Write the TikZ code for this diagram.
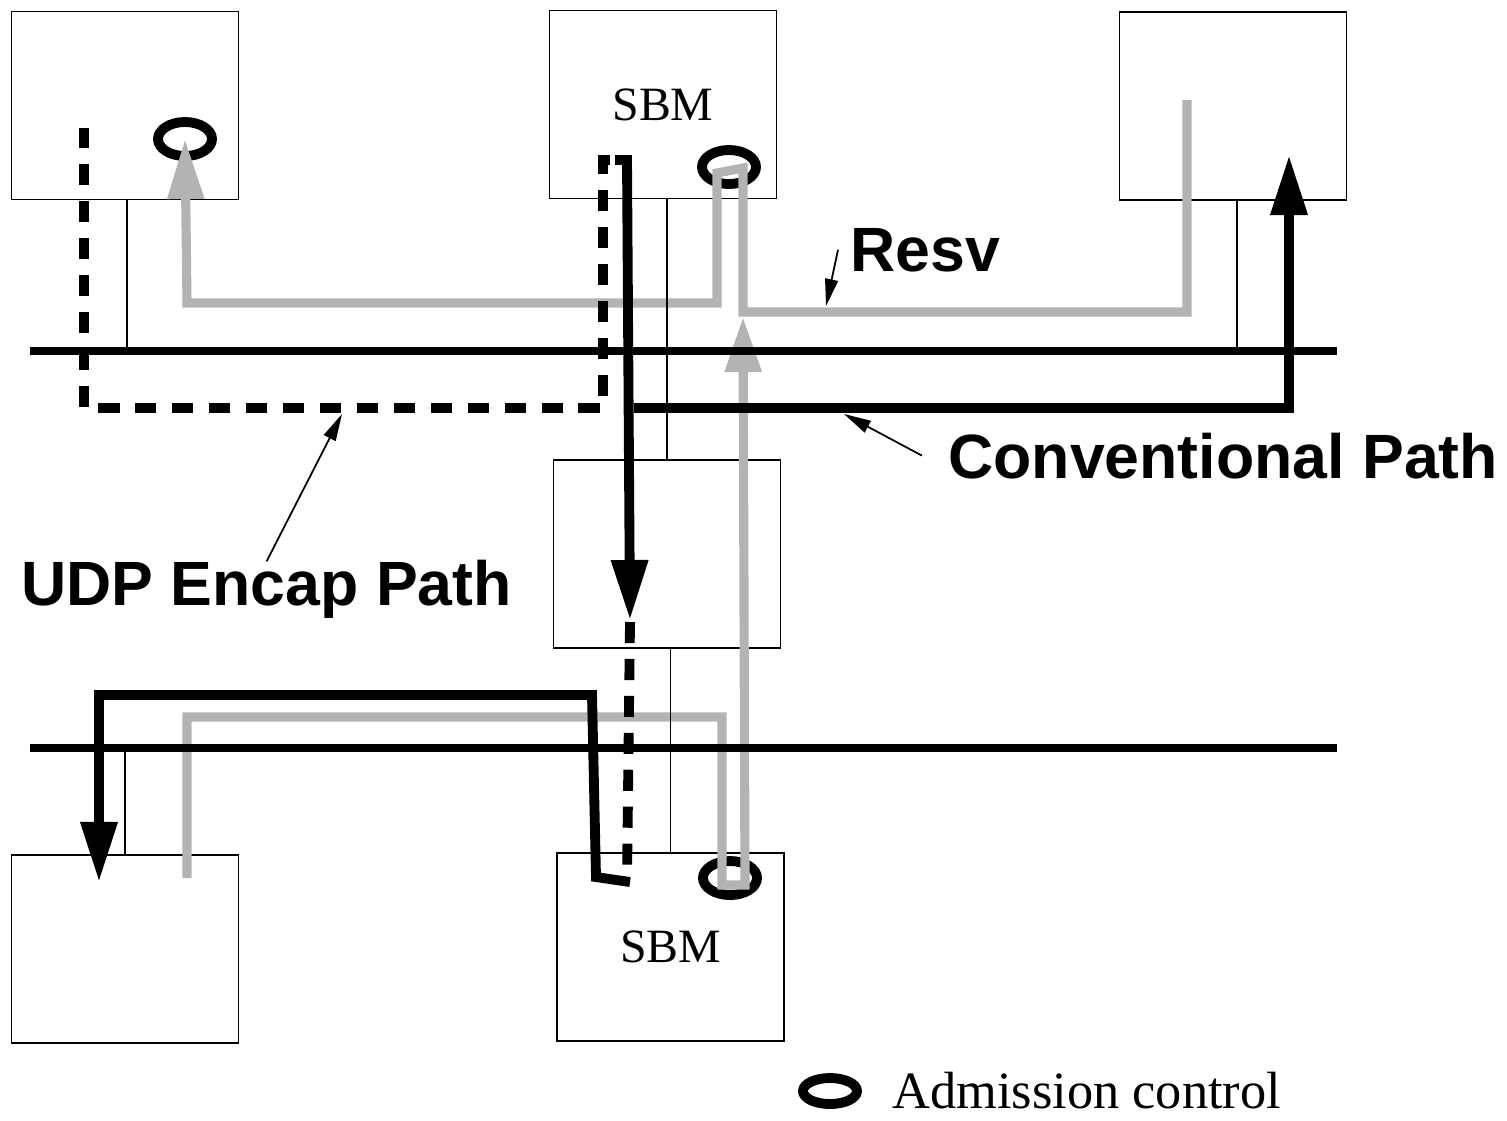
\documentclass[tikz,border=0pt]{standalone}
\usepackage{fontspec}
\setmainfont{Liberation Serif}
\setsansfont{Liberation Sans}
\usepackage{tikz}
\usetikzlibrary{arrows.meta, positioning, shapes.geometric}
\usepackage{xcolor}
\definecolor{ResvGray}{HTML}{B3B3B3}
\tikzset{
  hbox/.style={draw, line width=0.5pt, minimum width=2.27cm, minimum height=1.88cm,
    inner sep=0pt, font=\fontsize{13.6}{16}\selectfont},
  acring/.style={draw, ellipse, line width=2.8pt, minimum width=0.54cm,
    minimum height=0.34cm, inner sep=0pt},
  bus/.style={line width=2.3pt},
  stub/.style={line width=0.45pt},
  conv/.style={line width=2.8pt, line join=miter},
  encap/.style={conv, dash pattern=on 6pt off 4.5pt},
  resv/.style={line width=2.6pt, draw=ResvGray, line join=miter},
  bigtip/.style={-{Triangle[length=0.6cm, width=0.35cm]}},
  pointer/.style={-{Triangle[length=0.27cm, width=0.13cm]}, line width=0.5pt},
  lbl/.style={font=\sffamily\bfseries\fontsize{17.8}{21}\selectfont},
  keytext/.style={font=\fontsize{14.9}{18}\selectfont},
}
\begin{document}
\begin{tikzpicture}[x=0.01cm, y=-0.01cm]
    \useasboundingbox (0,0) rectangle (1507,1120);
    \node[hbox] (tl) at (125,105.5) {};
    \node[hbox] (tm) at (663,104.5) {SBM};
    \node[hbox] (tr) at (1233,106) {};
    \node[hbox] (mid) at (667,554) {};
    \node[hbox] (bl) at (125,949) {};
    \node[hbox] (bm) at (670.5,947) {SBM};
    \coordinate (busA-w) at (30,351);
    \coordinate (busA-e) at (1337,351);
    \coordinate (busB-w) at (30,748);
    \coordinate (busB-e) at (1337,748);
    \node[acring] (adm-tl) at (185,139) {};
    \node[acring] (adm-tm) at (729,167) {};
    \node[acring] (adm-bm) at (730,878) {};
    \node[acring, minimum height=0.26cm] (adm-key) at (830,1091) {};
    \node[keytext, right=0.18cm of adm-key] (keytxt) {Admission control};
    \draw[resv, bigtip] (1187,100) -- (1187,312) -- (743,312) -- (743,168)
      -- (717,173) -- (717,303) -- (187,303) -- (adm-tl.center);
    \draw[resv, -{Triangle[length=0.55cm, width=0.35cm]}] (187,878) -- (187,717)
      -- (722,717) -- (722,885) -- (745,885) -- (743,317);
    \draw[stub] ([xshift=0.02cm]tl.south) -- ([xshift=0.02cm]tl.south |- busA-w);
    \draw[stub] ([xshift=0.04cm]tr.south) -- ([xshift=0.04cm]tr.south |- busA-w);
    \draw[stub] (mid.north) -- (mid.north |- tm.south);
    \draw[stub] (bm.north) -- (bm.north |- mid.south);
    \draw[stub] (bl.north) -- (bl.north |- busB-w);
    \draw[bus] (busA-w) -- (busA-e);
    \draw[bus] (busB-w) -- (busB-e);
    \draw[encap] (610,160) -- (603,160) -- (603,408) -- (84,408) -- (84,128);
    \draw[encap] (630,622) -- (627,880);
    \draw[conv, bigtip] (615,160) -- (627,160) -- (630,620);
    \draw[conv, bigtip] (634,408) -- (1289,408) -- (1289,155);
    \draw[conv, bigtip] (630,882) -- (596,877) -- (592,695) -- (99,695) -- (99,882);
    \node[lbl, anchor=base west] (resvlbl) at (838,271) {Resv};
    \node[lbl, anchor=base west] (convlbl) at (936,478) {Conventional Path};
    \node[lbl, anchor=base west] (udplbl) at (9,605) {UDP Encap Path};
    \coordinate (resv-tip) at (826,306);
    \coordinate (conv-tip) at (844,414);
    \coordinate (udp-tip) at (342,414);
    \draw[pointer] (resvlbl.west) -- (resv-tip);
    \draw[pointer] ([xshift=-0.14cm]convlbl.west) -- (conv-tip);
    \draw[pointer] ([yshift=-0.14cm]udplbl.north) -- (udp-tip);
\end{tikzpicture}
\end{document}
